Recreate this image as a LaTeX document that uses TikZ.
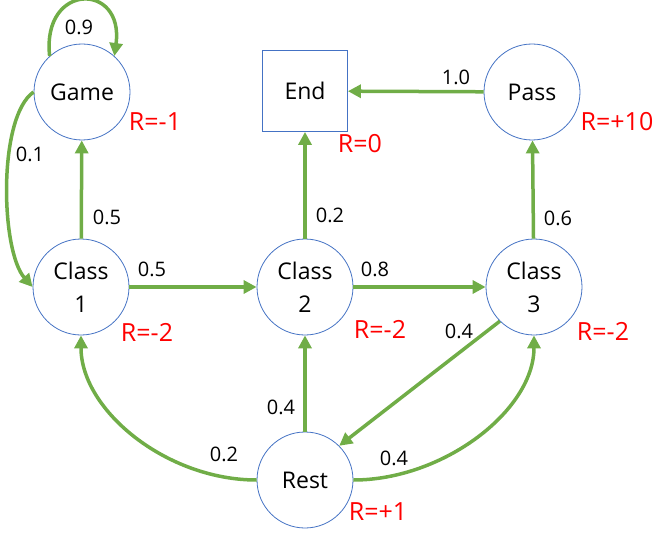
\documentclass[tikz,border=0pt]{standalone}
\usepackage{fontspec}
\setmainfont{Open Sans}
\usetikzlibrary{arrows.meta}
\definecolor{edgegreen}{RGB}{112,173,71}
\definecolor{nodeblue}{RGB}{68,114,196}
\tikzset{
 mstate/.style={circle,draw=nodeblue,line width=0.8pt,fill=white,minimum size=96pt,inner sep=0pt,align=center,font=\fontsize{23}{33}\selectfont},
 endbox/.style={rectangle,draw=nodeblue,line width=0.8pt,fill=white,minimum width=85pt,minimum height=81pt,font=\fontsize{23}{33}\selectfont},
 trans/.style={draw=edgegreen,line width=3.5pt,-{Triangle[length=13pt,width=13pt]}},
 prob/.style={font=\fontsize{20}{20}\selectfont,inner sep=0pt},
 reward/.style={text=red,font=\fontsize{25}{25}\selectfont,inner sep=0pt},
}
\begin{document}
\begin{tikzpicture}[x=1pt,y=1pt]
\useasboundingbox (0,0) rectangle (669,542);
% nodes
\node[mstate] (game) at (82,450) {Game};
\node[mstate] (c1) at (81,255) {Class\\1};
\node[mstate] (c2) at (305,255) {Class\\2};
\node[mstate] (c3) at (534,255) {Class\\3};
\node[mstate] (pass) at (532,450) {Pass};
\node[endbox] (end) at (305,451) {End};
\node[mstate] (rest) at (305,62) {Rest};
% edges
\draw[trans] (game.132) .. controls +(-8,74) and +(10,74) .. (game.48);
\draw[trans] (game.west) .. controls +(-36,-25) and +(-32,36) .. (c1.west);
\draw[trans] (c1) -- (game);
\draw[trans] (c1) -- (c2);
\draw[trans] (c2) -- (end);
\draw[trans] (c2) -- (c3);
\draw[trans] (c3) -- (pass);
\draw[trans] (pass) -- (end);
\draw[trans] (c3.south west) -- (rest.north east);
\draw[trans] (rest) -- (c2);
\draw[trans] (rest.west) .. controls +(-90,0) and +(0,-75) .. (c1.south);
\draw[trans] (rest.east) .. controls +(90,0) and +(0,-75) .. (c3.south);
% probabilities
\node[prob] (p1) at (79,515) {0.9};
\node[prob] (p2) at (30,388) {0.1};
\node[prob] (p3) at (107,325) {0.5};
\node[prob] (p4) at (152,273) {0.5};
\node[prob] (p5) at (330,327) {0.2};
\node[prob] (p6) at (375,273) {0.8};
\node[prob] (p7) at (558,324) {0.6};
\node[prob] (p8) at (456,465) {1.0};
\node[prob] (p9) at (459,211) {0.4};
\node[prob] (p10) at (281,135) {0.4};
\node[prob] (p11) at (224,88) {0.2};
\node[prob] (p12) at (394,84) {0.4};
% rewards
\node[reward] (r1) at (155,420) {R=-1};
\node[reward] (r2) at (360,398) {R=0};
\node[reward] (r3) at (617,420) {R=+10};
\node[reward] (r4) at (147,210) {R=-2};
\node[reward] (r5) at (380,213) {R=-2};
\node[reward] (r6) at (603,211) {R=-2};
\node[reward] (r7) at (378,30) {R=+1};
\end{tikzpicture}
\end{document}
